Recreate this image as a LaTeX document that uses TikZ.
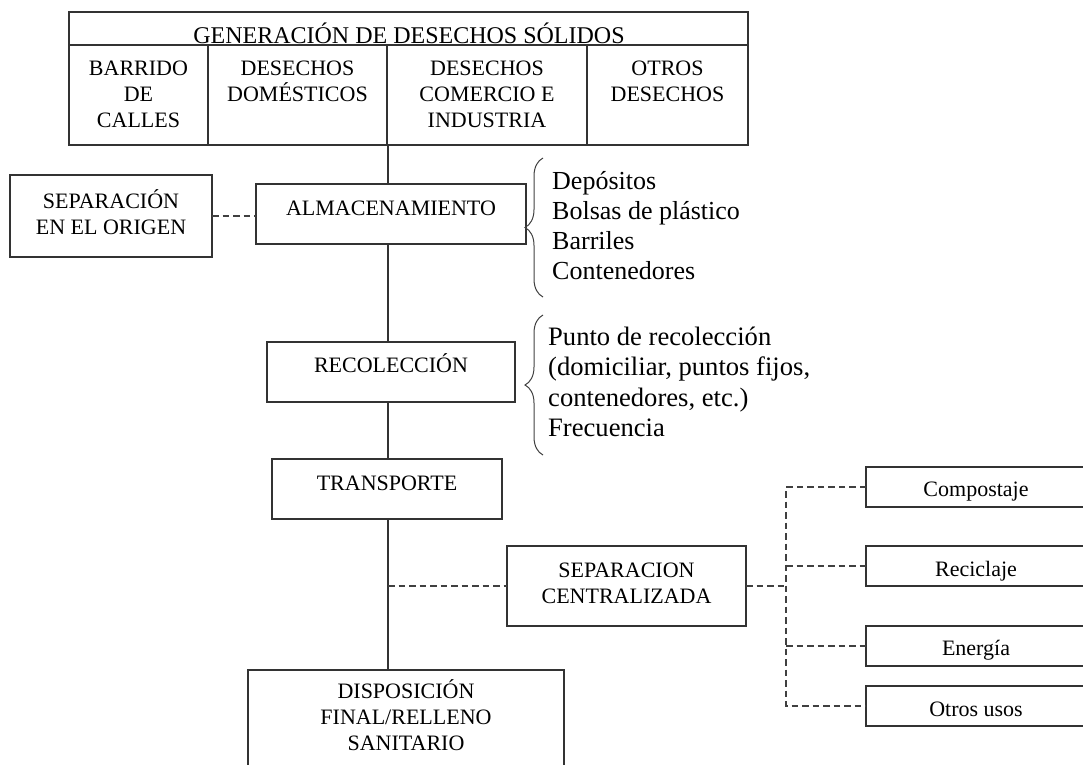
\documentclass[tikz,border=0pt]{standalone}
\usepackage{fontspec}
\setmainfont{Liberation Serif}
\usetikzlibrary{decorations.pathreplacing}
\newcommand{\mlines}[2][c]{\begin{tabular}[t]{@{}#1@{}}#2\end{tabular}}
\tikzset{
 box/.style={draw=black!80, line width=1.5pt, inner sep=0pt, outer sep=0pt, anchor=north west},
 lbl/.style={inner sep=0pt, anchor=base, font=\fontsize{22}{26}\selectfont},
 ttl/.style={inner sep=0pt, anchor=base, font=\fontsize{24}{28}\selectfont},
 lst/.style={inner sep=0pt, anchor=base west, font=\fontsize{26}{30}\selectfont},
 lstb/.style={inner sep=0pt, anchor=base west, font=\fontsize{26.6}{30.5}\selectfont},
 conn/.style={draw=black!80, line width=1.5pt},
 dsh/.style={draw=black!75, line width=1.4pt, dash pattern=on 6.5pt off 4pt},
 brc/.style={draw=black!75, line width=1pt, decorate, decoration={brace, amplitude=18pt}},
}
\begin{document}
\begin{tikzpicture}[x=1pt,y=-1pt]
\useasboundingbox (0,0) rectangle (1083,764);
\coordinate (m) at (388,0);
\coordinate (bus) at (786,0);

% top table
\node[box, minimum width=679pt, minimum height=133pt] (gen) at (69,12) {};
\draw[conn] (69,45) -- (748,45);
\draw[conn] (208,45) -- (208,145);
\draw[conn] (387,45) -- (387,145);
\draw[conn] (587,45) -- (587,145);
\node[ttl] (gent) at (409,43) {GENERACIÓN DE DESECHOS SÓLIDOS};
\node[lbl] (c1) at (138.5,75) {\mlines{BARRIDO\\DE\\CALLES}};
\node[lbl] (c2) at (297.5,75) {\mlines{DESECHOS\\DOMÉSTICOS}};
\node[lbl] (c3) at (487,75) {\mlines{DESECHOS\\COMERCIO E\\INDUSTRIA}};
\node[lbl] (c4) at (667.5,75) {\mlines{OTROS\\DESECHOS}};

% main boxes
\node[box, minimum width=202pt, minimum height=82pt] (sepo) at (10,175) {};
\node[lbl] (sepot) at (111,208) {\mlines{SEPARACIÓN\\EN EL ORIGEN}};
\node[box, minimum width=270pt, minimum height=60pt] (alm) at (256,184) {};
\node[lbl] (almt) at (391,215) {ALMACENAMIENTO};
\node[box, minimum width=248pt, minimum height=60pt] (rec) at (267,342) {};
\node[lbl] (rect) at (391,372) {RECOLECCIÓN};
\node[box, minimum width=230pt, minimum height=60pt] (tra) at (272,459) {};
\node[lbl] (trat) at (387,490) {TRANSPORTE};
\node[box, minimum width=239pt, minimum height=80pt] (sepc) at (507,546) {};
\node[lbl] (sepct) at (626.5,577) {\mlines{SEPARACION\\CENTRALIZADA}};
\node[box, minimum width=316pt, minimum height=110pt] (disp) at (248,670) {};
\node[lbl] (dispt) at (406,698) {\mlines{DISPOSICIÓN\\FINAL/RELLENO\\SANITARIO}};

% right-hand boxes
\node[box, minimum width=220pt, minimum height=40pt] (comp) at (866,467) {};
\node[lbl] (compt) at (976,496) {Compostaje};
\node[box, minimum width=220pt, minimum height=40pt] (reci) at (866,546) {};
\node[lbl] (recit) at (976,576) {Reciclaje};
\node[box, minimum width=220pt, minimum height=40pt] (ener) at (866,626) {};
\node[lbl] (enert) at (976,655) {Energía};
\node[box, minimum width=220pt, minimum height=40pt] (otro) at (866,686) {};
\node[lbl] (otrot) at (976,716) {Otros usos};

% lists
\node[lst] (l1) at (552,189.5) {\mlines[l]{Depósitos\\Bolsas de plástico\\Barriles\\Contenedores}};
\node[lstb] (l2) at (548,345) {\mlines[l]{Punto de recolección\\(domiciliar, puntos fijos,\\contenedores, etc.)\\Frecuencia}};
\draw[brc] (543,297) -- (543,158);
\draw[brc] (543,455) -- (543,315);

% main connectors
\draw[conn] (gen.south -| m) -- (alm.north -| m);
\draw[conn] (alm.south -| m) -- (rec.north -| m);
\draw[conn] (rec.south -| m) -- (tra.north -| m);
\draw[conn] (tra.south -| m) -- (disp.north -| m);

% dashed connectors
\draw[dsh] (sepo.east) -- (sepo.east -| alm.west);
\draw[dsh] (sepc.west -| m) -- (sepc.west);
\draw[dsh] (sepc.east) -- (sepc.east -| bus);
\draw[dsh] (comp.west) -- (comp.west -| bus) -- (otro.west -| bus) -- (otro.west);
\draw[dsh] (reci.west -| bus) -- (reci.west);
\draw[dsh] (ener.west -| bus) -- (ener.west);
\end{tikzpicture}
\end{document}
